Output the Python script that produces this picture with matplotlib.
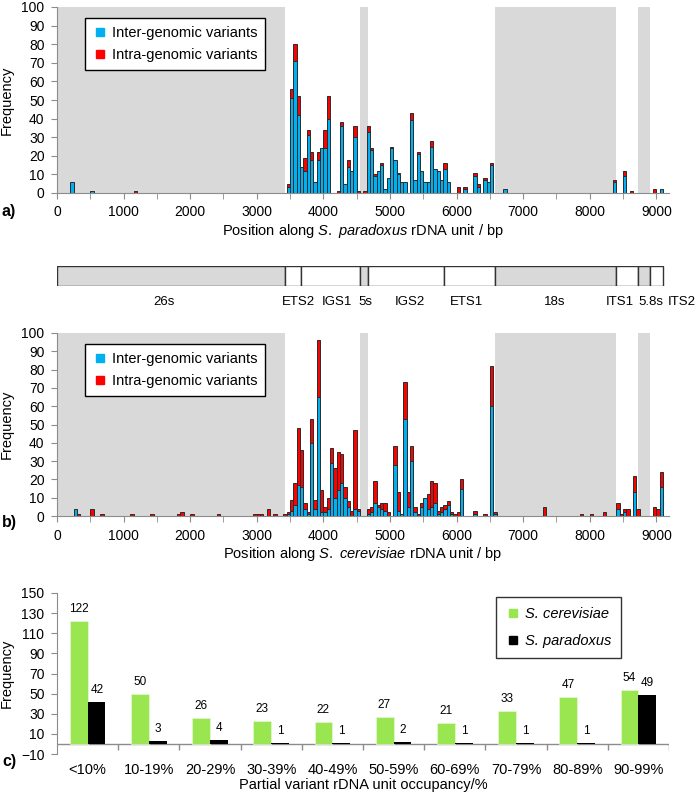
import matplotlib
matplotlib.use("Agg")
import matplotlib.pyplot as plt
import numpy as np
from matplotlib.lines import Line2D

plt.rcParams["font.family"] = ["Liberation Sans", "DejaVu Sans"]
plt.rcParams["font.size"] = 10
plt.rcParams["mathtext.fontset"] = "custom"
plt.rcParams["mathtext.rm"] = "Liberation Sans"
plt.rcParams["mathtext.it"] = "Liberation Sans:italic"

# rDNA unit regions (bp) for the diagram and grey shading
regions = ["26s", "ETS2", "IGS1", "5s", "IGS2", "ETS1", "18s", "ITS1", "5.8s", "ITS2"]
region_start = [0, 3420, 3670, 4545, 4675, 5815, 6575, 8390, 8720, 8900]
region_end = [3420, 3670, 4545, 4675, 5815, 6575, 8390, 8720, 8900, 9095]
coding = ["26s", "5s", "18s", "5.8s"]
label_x = [1600, 3620, 4210, 4630, 5300, 6150, 7470, 8450, 8920, 9380]

# panel a: S. paradoxus, 50 bp bins (bin start)
pos_a = [200, 500, 1150,
         3450, 3500, 3550, 3600, 3650, 3700, 3750, 3800, 3850, 3900, 3950, 4000, 4050,
         4200, 4250, 4300, 4350, 4400, 4450, 4500, 4600,
         4650, 4700, 4750, 4800, 4850, 4900, 4950, 5000, 5050, 5100, 5150, 5200,
         5300, 5350, 5400, 5450, 5500, 5550, 5600, 5650, 5700, 5750, 5800, 5850,
         6000, 6100, 6250, 6300, 6400, 6450, 6500, 6700,
         8350, 8500, 8600, 8950, 9050]
inter_a = [6, 1, 0,
           3, 51, 71, 42, 14, 12, 31, 18, 6, 18, 24, 24, 40,
           0, 36, 5, 14, 12, 30, 0, 0,
           33, 23, 9, 12, 15, 2, 8, 24, 18, 10, 6, 6,
           39, 7, 21, 12, 6, 6, 25, 13, 12, 7, 13, 6,
           0, 2, 9, 3, 7, 6, 15, 2,
           6, 9, 0, 0, 2]
intra_a = [0, 0, 1,
           2, 5, 9, 10, 0, 7, 3, 4, 0, 4, 0, 10, 12,
           1, 2, 0, 4, 0, 6, 1, 1,
           3, 1, 1, 0, 1, 0, 0, 1, 0, 1, 0, 0,
           4, 0, 1, 0, 0, 0, 3, 0, 0, 0, 3, 0,
           3, 1, 2, 2, 1, 0, 1, 0,
           1, 3, 1, 2, 0]

# panel b: S. cerevisiae
pos_b = [250, 300, 500, 650, 1100, 1400, 1800, 1850, 2000, 2400, 2950, 3000, 3050, 3150, 3250, 3400, 3450,
         3500, 3550, 3600, 3650, 3700, 3750, 3800, 3850, 3900, 3950, 4000,
         4050, 4100, 4150, 4200, 4250, 4300, 4350, 4400, 4450, 4500,
         4650, 4700, 4750, 4800, 4850, 4900, 4950,
         5050, 5100, 5150, 5200, 5250, 5300, 5350, 5400, 5450, 5500,
         5550, 5600, 5650, 5700, 5750, 5800, 5850, 5900, 5950,
         6000, 6050, 6250, 6400, 6500, 6550,
         7300, 7850, 8000, 8200,
         8400, 8450, 8500, 8550, 8650, 8700,
         8950, 9000, 9050]
inter_b = [4, 0, 0, 0, 0, 0, 0, 0, 0, 0, 0, 0, 0, 0, 0, 0, 1,
           3, 6, 17, 16, 4, 1, 40, 4, 65, 2, 2,
           4, 29, 10, 14, 18, 10, 5, 0, 4, 3,
           1, 2, 7, 5, 4, 3, 0,
           28, 3, 1, 53, 5, 30, 2, 0, 5, 10,
           4, 5, 7, 1, 2, 4, 6, 1, 0,
           0, 15, 1, 0, 60, 1,
           0, 0, 0, 0,
           4, 0, 2, 0, 13, 0,
           0, 0, 16]
intra_b = [0, 1, 4, 1, 1, 1, 1, 2, 1, 1, 1, 1, 1, 4, 1, 1, 1,
           6, 12, 31, 20, 3, 1, 13, 5, 31, 12, 3,
           6, 8, 16, 21, 16, 6, 3, 3, 43, 1,
           3, 3, 12, 1, 3, 4, 2,
           10, 10, 0, 20, 8, 8, 3, 1, 2, 0,
           8, 14, 11, 2, 3, 2, 2, 1, 1,
           2, 5, 2, 1, 22, 1,
           5, 1, 1, 2,
           3, 1, 2, 4, 9, 4,
           5, 4, 8]

# panel c
occupancy = ["<10%", "10-19%", "20-29%", "30-39%", "40-49%",
             "50-59%", "60-69%", "70-79%", "80-89%", "90-99%"]
cerevisiae = [122, 50, 26, 23, 22, 27, 21, 33, 47, 54]
paradoxus = [42, 3, 4, 1, 1, 2, 1, 1, 1, 49]

BLUE = "#00b0f0"
RED = "#ff0000"
GREY = "#d9d9d9"
AXIS = "#8c8c8c"
GREEN = "#99e650"
XMAX = 9190

W, H = 697, 794
fig = plt.figure(figsize=(W / 100, H / 100), dpi=100)


def box(left, top, right, bottom):
    return [left / W, 1 - bottom / H, (right - left) / W, (bottom - top) / H]


def style_axis(ax):
    for s in ["top", "right"]:
        ax.spines[s].set_visible(False)
    for s in ["left", "bottom"]:
        ax.spines[s].set_color(AXIS)
    ax.tick_params(colors=AXIS, labelcolor="black", direction="out", length=4, labelsize=10)
    ax.tick_params(axis="y", pad=5)


def rdna_panel(ax, pos, inter, intra, species, tag, tag_y):
    for name, lo, hi in zip(regions, region_start, region_end):
        if name in coding:
            ax.axvspan(lo, hi, color=GREY, lw=0, zorder=0)
    x = np.array(pos) + 25
    inter = np.array(inter)
    intra = np.array(intra)
    m = inter > 0
    ax.bar(x[m], inter[m], width=50, color=BLUE, edgecolor="#2b2b2b", linewidth=0.7, zorder=2)
    m = intra > 0
    ax.bar(x[m], intra[m], bottom=inter[m], width=50, color=RED, edgecolor="#2b2b2b",
           linewidth=0.7, zorder=2)
    ax.set_xlim(0, XMAX)
    ax.set_ylim(0, 100)
    ax.set_yticks(range(0, 101, 10))
    ax.set_xticks(range(0, 9001, 1000))
    ax.set_xticks(range(0, 9001, 500), minor=True)
    style_axis(ax)
    ax.tick_params(which="minor", colors=AXIS, length=4)
    ax.tick_params(axis="x", pad=5)
    ax.set_ylabel("Frequency", fontsize=10.5, labelpad=5.5)
    ax.set_xlabel("Position along $\\it{S.\\ %s}$ rDNA unit / bp" % species, fontsize=10.5,
                  labelpad=1.5)
    ax.text(-0.09, tag_y, tag, transform=ax.transAxes, fontsize=11.5, fontweight="bold",
            va="center", ha="left")
    handles = [Line2D([], [], marker="s", ls="", color=BLUE, markersize=6),
               Line2D([], [], marker="s", ls="", color=RED, markersize=6)]
    leg = ax.legend(handles, ["Inter-genomic variants", "Intra-genomic variants"],
                    loc="upper left", bbox_to_anchor=(0.045, 0.942), borderaxespad=0,
                    fontsize=10.5, frameon=True, fancybox=False, handletextpad=0.3,
                    handlelength=1.0, borderpad=0.55, labelspacing=0.55)
    leg.get_frame().set_edgecolor("black")
    leg.get_frame().set_linewidth(1.0)
    leg.get_frame().set_alpha(1)


ax_a = fig.add_axes(box(57, 7, 669, 193))
rdna_panel(ax_a, pos_a, inter_a, intra_a, "paradoxus", "a)", -0.1)

ax_d = fig.add_axes(box(57, 266, 669, 286))
for name, lo, hi, lx in zip(regions, region_start, region_end, label_x):
    ax_d.add_patch(plt.Rectangle((lo, 0), hi - lo, 1, facecolor=GREY if name in coding else "white",
                                 edgecolor="#333333", linewidth=1.0))
    ax_d.text(lx, -0.82, name, ha="center", va="center", fontsize=9.5)
ax_d.set_xlim(0, XMAX)
ax_d.set_ylim(0, 1)
ax_d.axis("off")

ax_b = fig.add_axes(box(57, 333, 669, 516))
rdna_panel(ax_b, pos_b, inter_b, intra_b, "cerevisiae", "b)", -0.035)

ax_c = fig.add_axes(box(57, 593, 669, 754))
idx = np.arange(len(occupancy))
ax_c.bar(idx - 0.145, cerevisiae, width=0.29, color=GREEN, edgecolor="#e6f7d6", linewidth=0.5,
         zorder=2)
ax_c.bar(idx + 0.145, paradoxus, width=0.29, color="black", zorder=2)
for i, (c, p) in enumerate(zip(cerevisiae, paradoxus)):
    ax_c.text(i - 0.15, c + 12, str(c), ha="center", va="center", fontsize=8.5)
    ax_c.text(i + 0.15, p + 12, str(p), ha="center", va="center", fontsize=8.5)
ax_c.set_xlim(-0.5, len(occupancy) - 0.5)
ax_c.set_ylim(-10, 150)
ax_c.set_yticks(range(-10, 151, 20))
ax_c.axhline(0, color=AXIS, lw=1, zorder=1)
ax_c.vlines(np.arange(0.5, len(occupancy), 1.0), -6, 0, color=AXIS, lw=1)
style_axis(ax_c)
ax_c.spines["bottom"].set_visible(False)
ax_c.set_xticks(idx)
ax_c.set_xticklabels(occupancy, fontsize=10.5)
ax_c.tick_params(axis="x", length=0, pad=6.5)
ax_c.set_ylabel("Frequency", fontsize=10.5, labelpad=5.5)
ax_c.set_xlabel("Partial variant rDNA unit occupancy/%", fontsize=10.5, labelpad=0.5)
ax_c.text(-0.09, -0.048, "c)", transform=ax_c.transAxes, fontsize=11.5, fontweight="bold",
          va="center", ha="left")
handles = [Line2D([], [], marker="s", ls="", color=GREEN, markersize=6),
           Line2D([], [], marker="s", ls="", color="black", markersize=6)]
leg = ax_c.legend(handles, ["S. cerevisiae", "S. paradoxus"], loc="upper right",
                  bbox_to_anchor=(0.922, 0.977), borderaxespad=0,
                  frameon=True, fancybox=False, handletextpad=0.3, handlelength=1.0,
                  borderpad=0.7, labelspacing=0.9, prop={"style": "italic", "size": 10.5})
leg.get_frame().set_edgecolor("black")
leg.get_frame().set_linewidth(1.0)

fig.savefig("out.png", dpi=100)
